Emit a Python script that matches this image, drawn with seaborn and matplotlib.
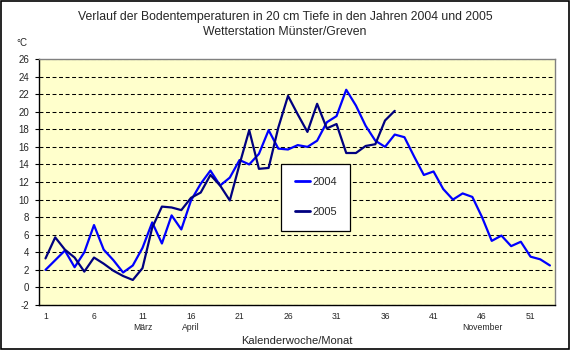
import matplotlib
matplotlib.use("Agg")
import matplotlib.pyplot as plt
from matplotlib.patches import Rectangle
import pandas as pd
import seaborn as sns

# --- data: weekly mean soil temperature (20 cm), Münster/Greven ---
weeks_2004 = list(range(1, 54))
temp_2004 = [2.0, 3.1, 4.2, 2.3, 4.0, 7.1, 4.3, 3.1, 1.7, 2.5,
             4.5, 7.4, 5.0, 8.2, 6.6, 9.9, 11.8, 13.3, 11.6, 12.5,
             14.5, 14.0, 15.2, 17.9, 15.8, 15.7, 16.2, 16.0, 16.7, 18.8,
             19.5, 22.5, 20.7, 18.4, 16.7, 16.0, 17.4, 17.1, 14.9, 12.8,
             13.2, 11.2, 10.0, 10.7, 10.3, 8.0, 5.3, 5.9, 4.7, 5.2,
             3.5, 3.2, 2.5]

weeks_2005 = list(range(1, 38))
temp_2005 = [3.3, 5.7, 4.3, 3.4, 1.8, 3.4, 2.7, 1.9, 1.3, 0.85,
             2.2, 6.8, 9.2, 9.1, 8.8, 10.2, 10.8, 12.8, 11.6, 9.9,
             14.0, 17.9, 13.5, 13.6, 18.2, 21.8, 19.7, 17.7, 20.9, 18.1,
             18.6, 15.3, 15.3, 16.1, 16.3, 19.0, 20.1]

tick_weeks = [1, 6, 11, 16, 21, 26, 31, 36, 41, 46, 51]
tick_labels = ["1", "6", "11\nMärz", "16\nApril", "21", "26", "31", "36",
               "41", "46\nNovember", "51"]
y_ticks = list(range(-2, 27, 2))

colors = {"2004": "#0000FF", "2005": "#000080"}

df = pd.concat([
    pd.DataFrame({"Woche": weeks_2004, "Temperatur": temp_2004, "Jahr": "2004"}),
    pd.DataFrame({"Woche": weeks_2005, "Temperatur": temp_2005, "Jahr": "2005"}),
], ignore_index=True)

# --- style ---
sns.set_theme(style="white")
plt.rcParams["font.family"] = ["Liberation Sans", "DejaVu Sans"]
plt.rcParams["lines.scale_dashes"] = False

fig = plt.figure(figsize=(5.7, 3.5), dpi=100, facecolor="white")
ax = fig.add_axes([39 / 570, 1 - 305 / 350, (554.5 - 39) / 570, 246 / 350])
ax.set_facecolor("#FFFFCC")

ax.yaxis.grid(True, color="black", linestyle=(0, (2.8, 1.9)), linewidth=0.75)
ax.set_axisbelow(True)

sns.lineplot(data=df, x="Woche", y="Temperatur", hue="Jahr", palette=colors,
             linewidth=1.6, ax=ax)

ax.set_xlim(0.33, 53.47)
ax.set_ylim(-2, 26)
ax.set_yticks(y_ticks)
ax.set_yticklabels([str(v) for v in y_ticks], fontsize=7)
ax.set_xticks(tick_weeks)
ax.set_xticklabels(tick_labels, fontsize=6.2, linespacing=1.3, va="top")
ax.tick_params(axis="y", direction="out", length=3, width=0.8, color="black",
               pad=4, left=True)
ax.tick_params(axis="x", length=0, pad=5)

for side in ["left", "bottom"]:
    ax.spines[side].set_color("black")
    ax.spines[side].set_linewidth(1.0)
for side in ["top", "right"]:
    ax.spines[side].set_color("#808080")
    ax.spines[side].set_linewidth(1.0)

ax.set_xlabel("Kalenderwoche/Monat", fontsize=8, labelpad=3)
ax.set_ylabel("")

leg = ax.legend(loc="center", bbox_to_anchor=(0.537, 0.438), fontsize=8,
                frameon=True, fancybox=False, shadow=False, framealpha=1,
                borderpad=1.2, labelspacing=1.8, handlelength=1.4,
                handletextpad=0.2, title=None)
leg.get_frame().set_edgecolor("black")
leg.get_frame().set_linewidth(0.9)
leg.get_frame().set_facecolor("white")
for line in leg.get_lines():
    line.set_linewidth(2.0)

# --- titles and unit ---
fig.text(0.5, 1 - 17 / 350, "Verlauf der Bodentemperaturen in 20 cm Tiefe in den Jahren 2004 und 2005",
         ha="center", va="center", fontsize=8.8)
fig.text(0.5, 1 - 32 / 350, "Wetterstation Münster/Greven",
         ha="center", va="center", fontsize=8.8)
fig.text(22 / 570, 1 - 43 / 350, "°C", ha="center", va="center", fontsize=7)

# outer chart border
fig.patches.append(Rectangle((0.001, 0.002), 0.997, 0.995, transform=fig.transFigure,
                             fill=False, edgecolor="black", linewidth=1.2))

fig.savefig("out.png", dpi=100, facecolor="white")
